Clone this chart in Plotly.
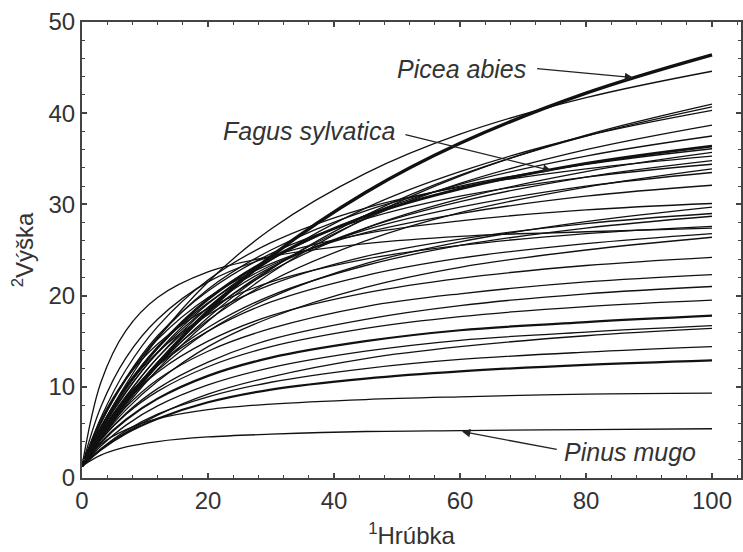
import plotly.graph_objects as go

# diameter grid (x, "Hrúbka")
d = [0, 3, 7, 12, 20, 30, 45, 60, 80, 100]

# heights (y, "Výška"), one list per curve
h_picea_abies = [1.3, 4.5, 8.3, 12.5, 18.3, 24.3, 31.3, 36.7, 42.2, 46.4]
h02 = [1.3, 5.5, 10.3, 15.3, 21.5, 27.3, 33.4, 37.7, 41.7, 44.6]
h03 = [1.3, 4.3, 7.9, 11.9, 17.2, 22.5, 28.5, 33.1, 37.6, 41.0]
h04 = [1.3, 4.5, 8.2, 12.3, 17.6, 22.9, 28.8, 33.2, 37.5, 40.7]
h05 = [1.3, 4.8, 8.9, 13.2, 18.7, 23.9, 29.6, 33.6, 37.5, 40.3]
h06 = [1.3, 4.7, 8.6, 12.7, 18.0, 23.0, 28.4, 32.3, 36.0, 38.7]
h07 = [1.3, 5.2, 9.4, 13.8, 19.1, 23.9, 28.8, 32.2, 35.3, 37.5]
h_fagus_sylvatica = [1.3, 5.4, 9.9, 14.3, 19.6, 24.1, 28.7, 31.7, 34.5, 36.4]
h09 = [1.3, 6.0, 10.8, 15.4, 20.7, 25.0, 29.3, 32.0, 34.4, 36.1]
h10 = [1.3, 5.0, 9.0, 13.2, 18.2, 22.7, 27.4, 30.6, 33.6, 35.7]
h11 = [1.3, 6.6, 11.9, 16.6, 21.7, 25.8, 29.6, 31.9, 33.9, 35.3]
h12 = [1.3, 5.3, 9.5, 13.7, 18.7, 23.1, 27.4, 30.3, 33.0, 34.8]
h13 = [1.3, 6.1, 11.0, 15.6, 20.5, 24.6, 28.4, 30.9, 33.0, 34.4]
h14 = [1.3, 4.8, 8.6, 12.5, 17.3, 21.6, 26.0, 29.1, 31.9, 33.9]
h15 = [1.3, 5.6, 10.1, 14.3, 19.2, 23.3, 27.2, 29.7, 32.0, 33.5]
h16 = [1.3, 6.1, 10.9, 15.2, 19.8, 23.5, 26.9, 29.0, 30.9, 32.1]
h17 = [1.3, 7.8, 13.2, 17.4, 21.5, 24.3, 26.8, 28.2, 29.4, 30.1]
h18 = [1.3, 4.7, 8.3, 11.8, 16.1, 19.8, 23.5, 25.9, 28.1, 29.7]
h19 = [1.3, 5.6, 9.9, 13.8, 17.9, 21.2, 24.3, 26.2, 27.9, 29.0]
h20 = [1.3, 5.0, 8.8, 12.4, 16.5, 20.0, 23.3, 25.5, 27.4, 28.7]
h21 = [1.3, 6.4, 10.9, 14.7, 18.6, 21.5, 24.0, 25.5, 26.8, 27.6]
h22 = [1.3, 10.5, 16.2, 19.8, 22.6, 24.3, 25.7, 26.5, 27.0, 27.4]
h23 = [1.3, 5.0, 8.8, 12.3, 16.1, 19.3, 22.2, 24.1, 25.7, 26.8]
h24 = [1.3, 4.3, 7.5, 10.6, 14.4, 17.6, 20.9, 23.1, 25.0, 26.4]
h25 = [1.3, 4.9, 8.4, 11.6, 15.0, 17.8, 20.3, 21.9, 23.3, 24.2]
h26 = [1.3, 4.6, 7.8, 10.8, 13.9, 16.4, 18.8, 20.2, 21.5, 22.3]
h27 = [1.3, 4.2, 7.1, 9.8, 12.7, 15.2, 17.4, 18.9, 20.2, 21.0]
h28 = [1.3, 4.2, 7.0, 9.5, 12.2, 14.4, 16.4, 17.7, 18.8, 19.5]
h29 = [1.3, 3.9, 6.4, 8.7, 11.2, 13.2, 15.0, 16.2, 17.1, 17.8]
h30 = [1.3, 3.5, 5.8, 7.9, 10.2, 12.1, 13.9, 15.1, 16.0, 16.7]
h31 = [1.3, 3.1, 5.0, 6.9, 9.2, 11.1, 13.1, 14.4, 15.6, 16.4]
h32 = [1.3, 3.2, 5.2, 7.0, 8.9, 10.5, 12.0, 13.0, 13.8, 14.4]
h33 = [1.3, 3.1, 4.9, 6.5, 8.3, 9.7, 10.9, 11.7, 12.4, 12.9]
h34 = [1.3, 3.7, 5.3, 6.5, 7.5, 8.1, 8.6, 8.9, 9.2, 9.3]
h_pinus_mugo = [1.3, 2.5, 3.4, 4.0, 4.5, 4.8, 5.1, 5.2, 5.3, 5.4]

thin_curves = [h02, h03, h04, h05, h06, h07, h09, h10, h11, h12, h13, h14, h15,
               h16, h17, h18, h19, h20, h21, h22, h23, h24, h25, h26, h27, h28,
               h30, h31, h32, h34, h_pinus_mugo]
thick_curves = [(h_picea_abies, 3.4), (h_fagus_sylvatica, 2.8), (h29, 2.2), (h33, 2.2)]

fig = go.Figure()
for h in thin_curves:
    fig.add_trace(go.Scatter(x=d, y=h, mode="lines", line=dict(color="#111111", width=1.3, shape="spline"),
                             hoverinfo="skip", showlegend=False))
for h, w in thick_curves:
    fig.add_trace(go.Scatter(x=d, y=h, mode="lines", line=dict(color="#111111", width=w, shape="spline"),
                             hoverinfo="skip", showlegend=False))

font_main = "Liberation Sans, Arial, sans-serif"
lab_font = dict(family=font_main, size=24, color="#333333")

# species labels
labels = ["Picea abies", "Fagus sylvatica", "Pinus mugo"]
label_x = [60.2, 36.0, 87.0]
label_y = [44.9, 38.0, 2.8]
arrow_head_x = [87.5, 74.5, 60.3]
arrow_head_y = [43.9, 33.7, 5.1]
arrow_tail_x = [72.0, 51.1, 75.6]
arrow_tail_y = [44.9, 37.7, 3.1]

for t, lx, ly, hx, hy, tx, ty in zip(labels, label_x, label_y, arrow_head_x, arrow_head_y, arrow_tail_x, arrow_tail_y):
    fig.add_annotation(x=lx, y=ly, text="<i>" + t + "</i>", showarrow=False,
                       font=dict(family=font_main, size=25, color="#333333"), xanchor="center", yanchor="middle")
    fig.add_annotation(x=hx, y=hy, ax=tx, ay=ty, axref="x", ayref="y", xref="x", yref="y",
                       text="", showarrow=True, arrowhead=2, arrowsize=1.3, arrowwidth=1.3, arrowcolor="#222222")

axis_common = dict(showgrid=False, zeroline=False, showline=True, linecolor="#444444", linewidth=2,
                   mirror="ticks", ticks="inside", ticklen=5, tickwidth=1.5, tickcolor="#444444",
                   tickfont=lab_font)

fig.update_xaxes(range=[0, 104.6], tickmode="array", tickvals=[0, 20, 40, 60, 80, 100],
                 minor=dict(dtick=4, tick0=0, ticks="inside", ticklen=3, tickcolor="#444444", tickwidth=1),
                 title=dict(text="<sup>1</sup>Hrúbka", font=lab_font, standoff=14), **axis_common)
fig.update_yaxes(range=[0, 50], tickmode="array", tickvals=[0, 10, 20, 30, 40, 50],
                 minor=dict(dtick=2, tick0=0, ticks="inside", ticklen=3, tickcolor="#444444", tickwidth=1),
                 title=dict(text="<sup>2</sup>Výška", font=lab_font, standoff=8), **axis_common)

fig.update_layout(width=743, height=552, margin=dict(l=82, r=0, t=22, b=74),
                  plot_bgcolor="white", paper_bgcolor="white")

fig.write_html("out.html")
